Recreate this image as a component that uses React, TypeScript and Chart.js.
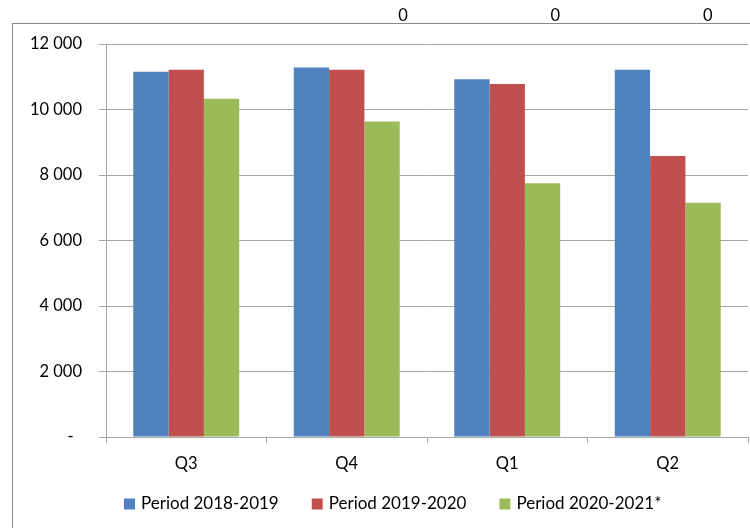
import React, { useEffect, useRef } from "react";
import { Chart, registerables } from "chart.js";

Chart.register(...registerables);

const categories = ["Q3", "Q4", "Q1", "Q2"];
const seriesNames = ["Period 2018-2019", "Period 2019-2020", "Period 2020-2021*"];
const series2018 = [11150, 11280, 10920, 11210];
const series2019 = [11210, 11210, 10780, 8580];
const series2020 = [10330, 9630, 7750, 7150];
const seriesColors = ["#4F81BD", "#C0504D", "#9BBB59"];
const yTicks = [0, 2000, 4000, 6000, 8000, 10000, 12000];
// stray data labels above the plot (category-index positions)
const topLabelTexts = ["0", "0", "0"];
const topLabelPositions = [1.35, 2.3, 3.25];

const FONT = "Lato, 'Open Sans', sans-serif";

function fmt(v: number): string {
  if (v === 0) return "-  ";
  return String(v).replace(/\B(?=(\d{3})+(?!\d))/g, " ");
}

const framePlugin = {
  id: "frame",
  beforeDraw(chart: any) {
    const ctx = chart.ctx;
    ctx.save();
    ctx.strokeStyle = "#8a8a8a";
    ctx.lineWidth = 1;
    ctx.strokeRect(12.5, 23.5, 900, 700);
    ctx.restore();
  },
};

const extrasPlugin = {
  id: "extras",
  afterDraw(chart: any) {
    const ctx = chart.ctx;
    const xs = chart.scales.x;
    ctx.save();
    ctx.font = `16.5px ${FONT}`;
    ctx.fillStyle = "#000";
    ctx.textAlign = "center";
    ctx.textBaseline = "middle";
    topLabelTexts.forEach((t, i) => {
      ctx.fillText(t, xs.getPixelForValue(topLabelPositions[i]), 16);
    });
    // legend
    ctx.font = `17px ${FONT}`;
    let x = 124;
    const cy = 504;
    ctx.textAlign = "left";
    chart.data.datasets.forEach((ds: any) => {
      ctx.fillStyle = ds.backgroundColor;
      ctx.fillRect(x, cy - 5.5, 11, 11);
      ctx.fillStyle = "#000";
      const tx = x + 17;
      ctx.fillText(ds.label, tx, cy);
      x = tx + ctx.measureText(ds.label).width + 33;
    });
    ctx.restore();
  },
};

export default function App() {
  const ref = useRef<HTMLCanvasElement>(null);
  useEffect(() => {
    if (!ref.current) return;
    const data = [series2018, series2019, series2020];
    const chart = new Chart(ref.current, {
      type: "bar",
      data: {
        labels: categories,
        datasets: seriesNames.map((name, i) => ({
          label: name,
          data: data[i],
          backgroundColor: seriesColors[i],
          borderWidth: 0,
          barPercentage: 1,
          categoryPercentage: 0.66,
        })),
      },
      options: {
        animation: false,
        responsive: false,
        maintainAspectRatio: false,
        layout: { padding: { left: 0, top: 44, right: 2, bottom: 42 } },
        plugins: {
          legend: { display: false },
          tooltip: { enabled: false },
        },
        scales: {
          x: {
            grid: {
              display: true,
              drawOnChartArea: false,
              drawTicks: true,
              tickLength: 6,
              color: "#a6a6a6",
              offset: true,
            },
            border: { display: true, color: "#a6a6a6" },
            ticks: {
              color: "#000",
              font: { family: FONT, size: 16.5 },
              padding: 11,
            },
            afterFit: (s: any) => {
              s.height = 49;
            },
          },
          y: {
            min: 0,
            max: 12000,
            afterBuildTicks: (s: any) => {
              s.ticks = yTicks.map((v) => ({ value: v }));
            },
            grid: {
              color: "#a6a6a6",
              tickLength: 7,
              drawTicks: true,
            },
            border: { display: true, color: "#a6a6a6" },
            ticks: {
              color: "#000",
              font: { family: FONT, size: 16.5 },
              padding: 17,
              callback: (v: any) => fmt(Number(v)),
            },
            afterFit: (s: any) => {
              s.width = 106;
            },
          },
        },
      },
      plugins: [framePlugin, extrasPlugin],
    });
    return () => chart.destroy();
  }, []);
  return (
    <div style={{ position: "fixed", left: 0, top: 0, width: 750, height: 528, background: "#fff" }}>
      <canvas ref={ref} width={750} height={528} style={{ display: "block" }} />
    </div>
  );
}
